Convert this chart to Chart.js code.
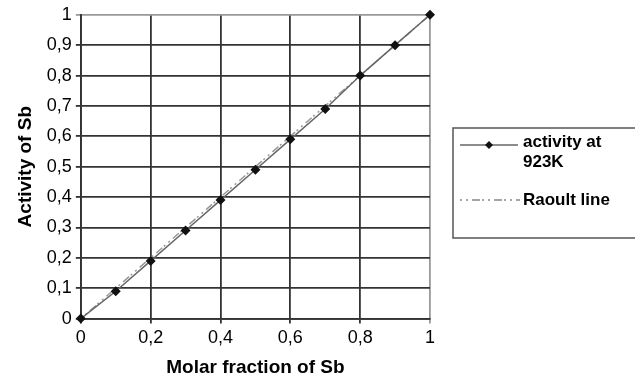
<!DOCTYPE html>
<html>
<head>
<meta charset="utf-8">
<script src="https://cdn.jsdelivr.net/npm/chart.js@4.4.1/dist/chart.umd.min.js"></script>
<style>
  html, body { margin: 0; padding: 0; background: #fff; }
  #wrap { width: 635px; height: 379px; }
</style>
</head>
<body>
<div id="wrap"><canvas id="myChart" width="635" height="379"></canvas></div>
<script>
// 資料
const molarFraction = [0, 0.1, 0.2, 0.3, 0.4, 0.5, 0.6, 0.7, 0.8, 0.9, 1.0];
const activity923K = [0, 0.09, 0.19, 0.29, 0.39, 0.49, 0.59, 0.69, 0.80, 0.90, 1.0];
const raoultX = [0, 1];
const raoultY = [0, 1];
const seriesLabels = ['activity at 923K', 'Raoult line'];

const FONT = "'Liberation Sans', Arial, sans-serif";
const fmt = v => String(Math.round(v * 10) / 10).replace('.', ',');
// 最外側（值為 1）的格線顏色較淡
const gridColor = c => (c.tick && c.tick.value === 1 ? '#999' : '#333');

// 圖例：自己畫一個框（右邊超出畫布）
const legendBox = {
    id: 'legendBox',
    afterDraw(chart) {
        const c = chart.ctx;
        c.save();
        c.strokeStyle = '#555';
        c.lineWidth = 1.5;
        c.strokeRect(453, 128, 200, 110);
        // activity line
        c.strokeStyle = '#666';
        c.lineWidth = 1.5;
        c.beginPath(); c.moveTo(460, 145); c.lineTo(518, 145); c.stroke();
        c.fillStyle = '#111';
        c.beginPath();
        c.moveTo(489, 141); c.lineTo(493, 145); c.lineTo(489, 149); c.lineTo(485, 145);
        c.closePath(); c.fill();
        // raoult line
        c.strokeStyle = '#888';
        c.setLineDash([2, 4, 2, 4, 8, 2]);
        c.beginPath(); c.moveTo(460, 200); c.lineTo(520, 200); c.stroke();
        c.setLineDash([]);
        c.fillStyle = '#000';
        c.font = 'bold 17px ' + FONT;
        c.textBaseline = 'middle';
        c.fillText('activity at', 523, 142);
        c.fillText('923K', 523, 162);
        c.fillText(seriesLabels[1], 523, 200);
        c.restore();
    }
};

const ctx = document.getElementById('myChart').getContext('2d');
const myChart = new Chart(ctx, {
    type: 'scatter',
    data: {
        datasets: [
            {
                label: seriesLabels[0],
                data: molarFraction.map((x, i) => ({ x: x, y: activity923K[i] })),
                showLine: true,
                borderColor: '#666',
                borderWidth: 1.5,
                pointStyle: 'rectRot',
                pointRadius: 5,
                pointBackgroundColor: '#111',
                pointBorderColor: '#111',
                pointBorderWidth: 0,
                clip: false,
                order: 1
            },
            {
                label: seriesLabels[1],
                data: raoultX.map((x, i) => ({ x: x, y: raoultY[i] })),
                showLine: true,
                borderColor: '#999',
                borderWidth: 1.5,
                borderDash: [2, 4, 2, 4, 8, 2],
                pointRadius: 0,
                order: 2
            }
        ]
    },
    options: {
        responsive: false,
        animation: false,
        layout: { padding: { top: 6, right: 205, left: 14, bottom: 0 } },
        plugins: {
            legend: { display: false },
            tooltip: { enabled: false }
        },
        scales: {
            x: {
                type: 'linear',
                min: 0,
                max: 1,
                ticks: {
                    stepSize: 0.2,
                    color: '#000',
                    font: { family: FONT, size: 18 },
                    padding: 4,
                    callback: v => fmt(v)
                },
                grid: { color: gridColor, lineWidth: 1.8, tickLength: 5 },
                border: { color: '#333', width: 1.8 },
                title: {
                    display: true,
                    text: 'Molar fraction of Sb',
                    color: '#000',
                    font: { family: FONT, size: 19, weight: 'bold' },
                    padding: { top: 3, bottom: 0 }
                }
            },
            y: {
                type: 'linear',
                min: 0,
                max: 1,
                ticks: {
                    stepSize: 0.1,
                    color: '#000',
                    font: { family: FONT, size: 18 },
                    padding: 4,
                    callback: v => fmt(v)
                },
                grid: { color: gridColor, lineWidth: 1.8, tickLength: 5 },
                border: { color: '#333', width: 1.8 },
                title: {
                    display: true,
                    text: 'Activity of Sb',
                    color: '#000',
                    font: { family: FONT, size: 19, weight: 'bold' },
                    padding: { top: 0, bottom: 6 }
                }
            }
        }
    },
    plugins: [legendBox]
});
</script>
</body>
</html>
